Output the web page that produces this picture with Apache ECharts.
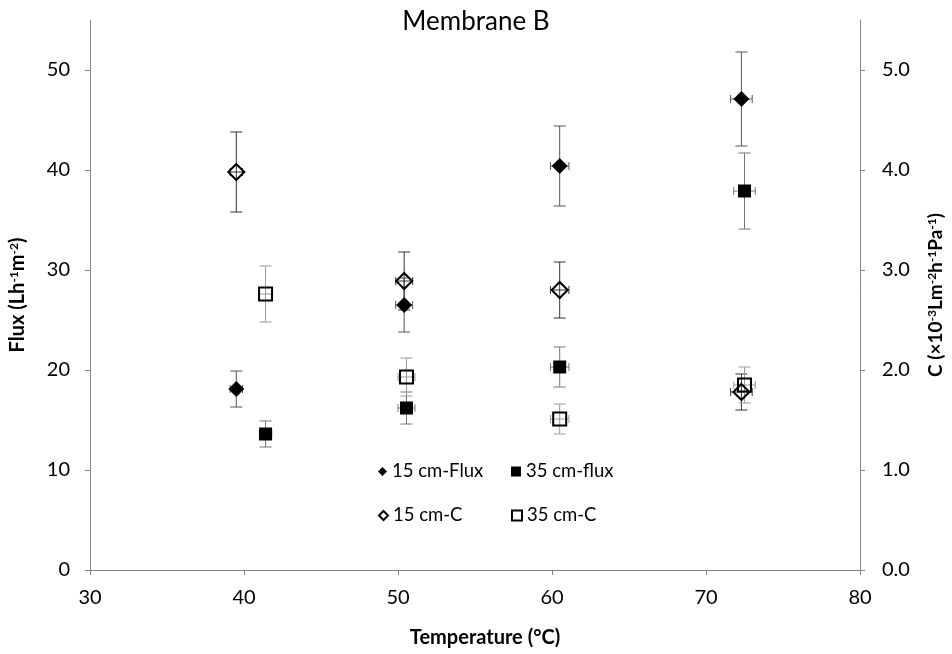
<!DOCTYPE html>
<html>
<head>
<meta charset="utf-8">
<script src="https://cdn.jsdelivr.net/npm/echarts@6/dist/echarts.min.js"></script>
<style>html,body{margin:0;padding:0;background:#fff}#chart{width:952px;height:654px}</style>
</head>
<body>
<div id="chart"></div>
<script>
// ---- data ----
const seriesNames = ['15 cm-Flux', '35 cm-flux', '15 cm-C', '35 cm-C'];

const temp15 = [39.5, 50.4, 60.5, 72.3];
const temp15Err = [0.4, 0.55, 0.6, 0.7];
const temp35 = [41.4, 50.55, 60.5, 72.5];
const temp35Err = [0.4, 0.55, 0.6, 0.7];

const flux15 = [18.1, 26.5, 40.4, 47.1];
const flux15Err = [1.8, 2.7, 4.0, 4.7];
const flux35 = [13.6, 16.2, 20.3, 37.9];
const flux35Err = [1.3, 1.6, 2.0, 3.8];

const c15 = [3.98, 2.89, 2.80, 1.78];
const c15Err = [0.40, 0.29, 0.28, 0.18];
const c35 = [2.76, 1.93, 1.51, 1.85];
const c35Err = [0.28, 0.19, 0.15, 0.18];

const xTicks = [30, 40, 50, 60, 70, 80];
const fluxTicks = [0, 10, 20, 30, 40, 50];
const cTicks = [0, 1, 2, 3, 4, 5];

// ---- helpers ----
const FONT = 'Lato';
function pts(xs, ys) { return xs.map((x, i) => [x, ys[i]]); }
function errPts(xs, ys, xe, ye) { return xs.map((x, i) => [x, ys[i], xe[i], ye[i]]); }

function errRender(params, api) {
  const x = api.value(0), y = api.value(1), xe = api.value(2), ye = api.value(3);
  const col = api.visual('color');
  const t = api.coord([x, y + ye]), b = api.coord([x, y - ye]);
  const l = api.coord([x - xe, y]), r = api.coord([x + xe, y]);
  const cw = 6, ch = 4;
  const st = { stroke: col, lineWidth: 1 };
  const line = (x1, y1, x2, y2) => ({ type: 'line', shape: { x1, y1, x2, y2 }, style: st });
  return {
    type: 'group',
    children: [
      line(t[0], t[1], b[0], b[1]),
      line(t[0] - cw, t[1], t[0] + cw, t[1]),
      line(b[0] - cw, b[1], b[0] + cw, b[1]),
      line(l[0], l[1], r[0], r[1]),
      line(l[0], l[1] - ch, l[0], l[1] + ch),
      line(r[0], r[1] - ch, r[0], r[1] + ch)
    ]
  };
}

function errSeries(data, yIdx, color) {
  return {
    type: 'custom', yAxisIndex: yIdx, data, renderItem: errRender,
    itemStyle: { color }, encode: { x: 0, y: 1 }, z: 1, silent: true
  };
}

const axisLineStyle = { color: '#868686', width: 1 };
const labelStyle = { fontFamily: FONT, fontSize: 20, color: '#000' };
const supRich = { s: { fontFamily: FONT, fontSize: 12, fontWeight: 'bold', verticalAlign: 'top', color: '#000' } };

function legendAt(name, left, top, iconW) {
  return {
    data: [name], left, top, orient: 'horizontal', padding: 0,
    itemWidth: iconW, itemHeight: iconW, itemGap: 5,
    textStyle: { fontFamily: FONT, fontSize: 18.5, color: '#000' },
    selectedMode: false
  };
}

const option = {
  animation: false,
  backgroundColor: '#fff',
  title: {
    text: 'Membrane B', left: 'center', top: 4,
    textStyle: { fontFamily: FONT, fontSize: 26, fontWeight: 'normal', color: '#000' }
  },
  grid: { left: 90, right: 92, top: 20, bottom: 84, containLabel: false, outerBoundsMode: 'none' },
  legend: [
    legendAt(seriesNames[0], 378, 462, 9),
    legendAt(seriesNames[1], 511, 462, 10),
    legendAt(seriesNames[2], 378, 506, 9),
    legendAt(seriesNames[3], 511, 506, 10)
  ],
  xAxis: {
    type: 'value', min: 30, max: 80, interval: 10,
    name: 'Temperature (°C)', nameLocation: 'middle', nameGap: 58,
    nameTextStyle: { fontFamily: FONT, fontSize: 20, fontWeight: 'bold', color: '#000', padding: [0, 0, 0, 20] },
    axisLine: { lineStyle: axisLineStyle },
    axisTick: { show: true, length: 5, lineStyle: axisLineStyle, customValues: xTicks },
    axisLabel: { ...labelStyle, margin: 18, customValues: xTicks },
    splitLine: { show: false }
  },
  yAxis: [
    {
      type: 'value', position: 'left', min: 0, max: 55, interval: 5,
      name: 'Flux (Lh{s|-1}m{s|-2})', nameLocation: 'middle', nameGap: 62, nameRotate: 90,
      nameTextStyle: { fontFamily: FONT, fontSize: 20, fontWeight: 'bold', color: '#000', rich: supRich },
      axisLine: { show: true, lineStyle: axisLineStyle },
      axisTick: { show: true, length: 5, lineStyle: axisLineStyle, customValues: fluxTicks },
      axisLabel: { ...labelStyle, margin: 20, customValues: fluxTicks },
      splitLine: { show: false }
    },
    {
      type: 'value', position: 'right', min: 0, max: 5.5, interval: 0.5,
      name: 'C (×10{s|-3}Lm{s|-2}h{s|-1}Pa{s|-1})', nameLocation: 'middle', nameGap: 66, nameRotate: 90,
      nameTextStyle: { fontFamily: FONT, fontSize: 19, fontWeight: 'bold', color: '#000', rich: supRich },
      axisLine: { show: true, lineStyle: axisLineStyle },
      axisTick: { show: true, length: 5, lineStyle: axisLineStyle, customValues: cTicks },
      axisLabel: { ...labelStyle, margin: 22, customValues: cTicks, formatter: v => v.toFixed(1) },
      splitLine: { show: false }
    }
  ],
  series: [
    errSeries(errPts(temp15, flux15, temp15Err, flux15Err), 0, '#555'),
    errSeries(errPts(temp35, flux35, temp35Err, flux35Err), 0, '#777'),
    errSeries(errPts(temp15, c15, temp15Err, c15Err), 1, '#333'),
    errSeries(errPts(temp35, c35, temp35Err, c35Err), 1, '#999'),
    {
      name: seriesNames[0], type: 'scatter', yAxisIndex: 0, z: 3,
      symbol: 'diamond', symbolSize: 16, data: pts(temp15, flux15),
      itemStyle: { color: '#000', opacity: 1 }
    },
    {
      name: seriesNames[1], type: 'scatter', yAxisIndex: 0, z: 3,
      symbol: 'rect', symbolSize: 13, data: pts(temp35, flux35),
      itemStyle: { color: '#000', opacity: 1 }
    },
    {
      name: seriesNames[2], type: 'scatter', yAxisIndex: 1, z: 3,
      symbol: 'diamond', symbolSize: 16, data: pts(temp15, c15),
      itemStyle: { color: 'rgba(255,255,255,0)', borderColor: '#000', borderWidth: 2, opacity: 1 }
    },
    {
      name: seriesNames[3], type: 'scatter', yAxisIndex: 1, z: 3,
      symbol: 'rect', symbolSize: 13, data: pts(temp35, c35),
      itemStyle: { color: 'rgba(255,255,255,0)', borderColor: '#000', borderWidth: 2, opacity: 1 }
    }
  ]
};

const chart = echarts.init(document.getElementById('chart'), null, { renderer: 'canvas' });
chart.setOption(option);
</script>
</body>
</html>
